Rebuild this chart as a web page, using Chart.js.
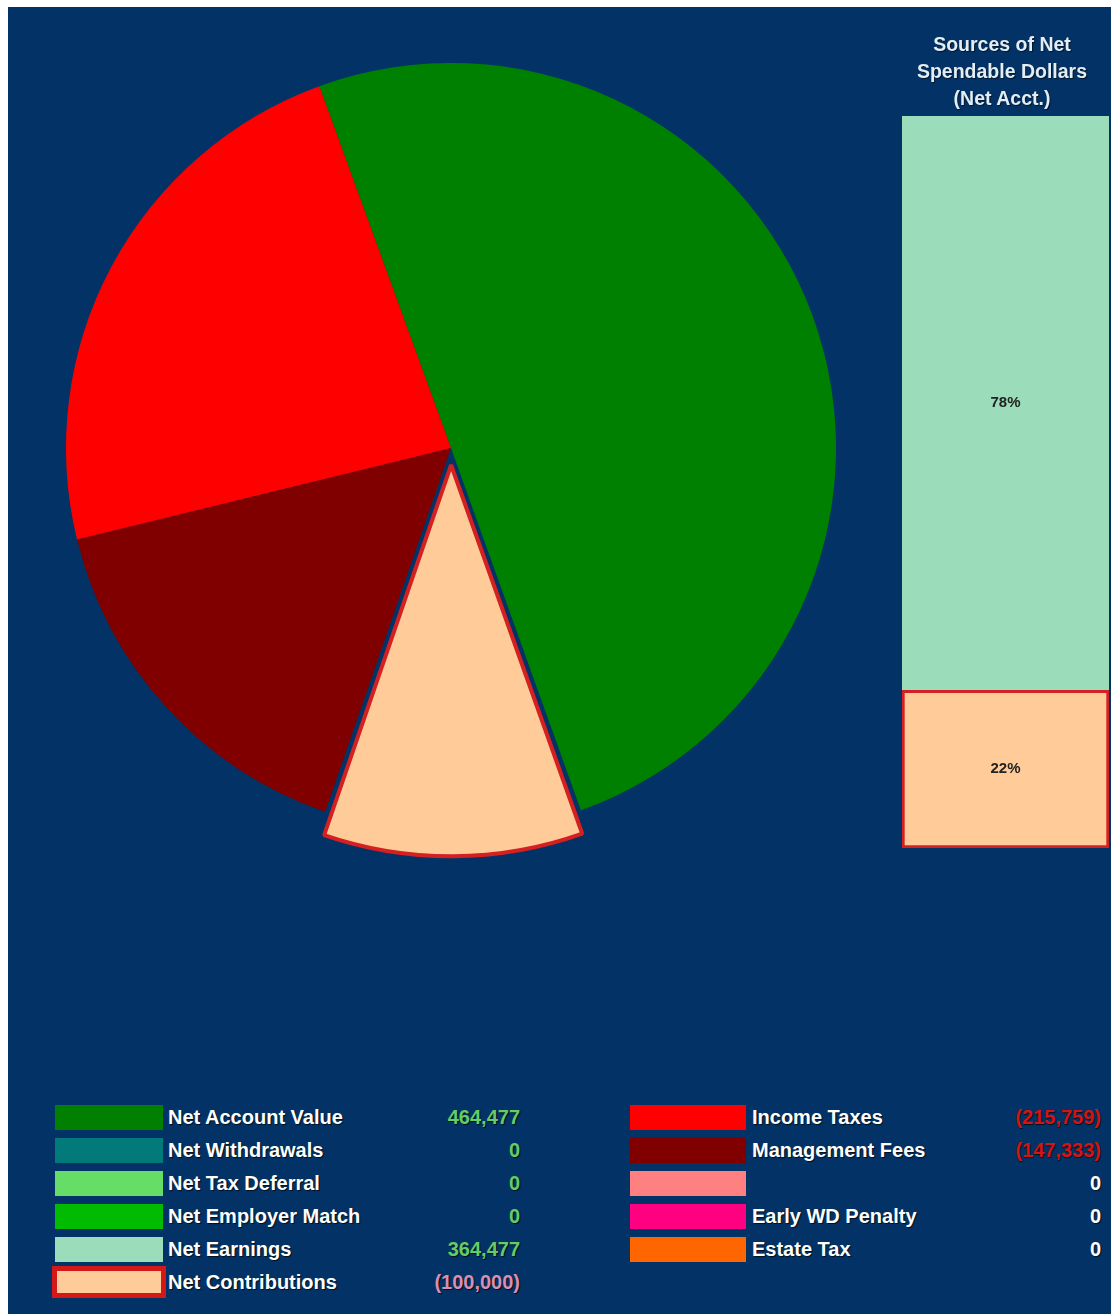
<!DOCTYPE html>
<html>
<head>
<meta charset="utf-8">
<script src="https://cdn.jsdelivr.net/npm/chart.js@4/dist/chart.umd.min.js"></script>
<style>
  html, body { margin:0; padding:0; background:#ffffff; }
  body { width:1111px; height:1314px; position:relative; overflow:hidden; font-family:"Liberation Sans", Arial, sans-serif; }
  #bg { position:absolute; left:8px; top:7px; width:1103px; height:1307px; background:#033366; }
  #pieWrap { position:absolute; left:6px; top:3px; width:890px; height:890px; }
  #barWrap { position:absolute; left:902px; top:116px; width:207px; height:732px; }
  #barTitle { position:absolute; left:892px; top:31px; width:220px; text-align:center; color:#e3edf5; font-weight:bold; font-size:19.5px; line-height:27px; text-shadow:1px 1px 1px rgba(0,0,0,0.6); }
  .lg { position:absolute; font-weight:bold; font-size:20px; line-height:24px; color:#ffffff; text-shadow:1px 1px 1px rgba(0,0,0,0.7); white-space:nowrap; }
  .sw { position:absolute; box-sizing:border-box; }
</style>
</head>
<body>
<div id="bg"></div>
<div id="pieWrap"><canvas id="pie" width="890" height="890"></canvas></div>
<div id="barTitle"></div>
<div id="barWrap"><canvas id="bar" width="207" height="732"></canvas></div>
<div id="legend"></div>
<script>
// ---- Data ----
const pieLabels = ["Net Account Value", "Net Contributions", "Management Fees", "Income Taxes"];
const pieValues = [464477, 100000, 147333, 215759];
const pieColors = ["#008000", "#ffcc99", "#800000", "#ff0000"];

const barTitleLines = ["Sources of Net", "Spendable Dollars", "(Net Acct.)"];
const barLabels = ["Net Contributions", "Net Earnings"];
const barValues = [100000, 364477];
const barColors = ["#ffcc99", "#9bdcbb"];

const legendLeftLabels = ["Net Account Value", "Net Withdrawals", "Net Tax Deferral", "Net Employer Match", "Net Earnings", "Net Contributions"];
const legendLeftValues = ["464,477", "0", "0", "0", "364,477", "(100,000)"];
const legendLeftColors = ["#007f00", "#037a7a", "#66dd66", "#00bb00", "#9bdcbb", "#ffcc99"];
const legendLeftValueColors = ["#66cc66", "#66cc66", "#66cc66", "#66cc66", "#66cc66", "#d98fb5"];

const legendRightLabels = ["Income Taxes", "Management Fees", "", "Early WD Penalty", "Estate Tax"];
const legendRightValues = ["(215,759)", "(147,333)", "0", "0", "0"];
const legendRightColors = ["#ff0000", "#800000", "#ff8080", "#ff0080", "#ff6600"];
const legendRightValueColors = ["#d41414", "#d41414", "#ffffff", "#ffffff", "#ffffff"];

// ---- Pie ----
new Chart(document.getElementById('pie'), {
  type: 'pie',
  data: {
    labels: pieLabels,
    datasets: [{
      data: pieValues,
      backgroundColor: pieColors,
      borderColor: ["#033366", "#d42020", "#033366", "#033366"],
      borderWidth: [0, 4, 0, 0],
      offset: [0, 68, 0, 0]
    }]
  },
  options: {
    responsive: false,
    animation: false,
    rotation: -20,
    radius: 385,
    layout: { padding: 0 },
    plugins: { legend: { display: false }, tooltip: { enabled: false } }
  }
});

// ---- Bar ----
document.getElementById('barTitle').innerHTML = barTitleLines.join('<br>');
const barTotal = barValues.reduce((a, b) => a + b, 0);
const pctPlugin = {
  id: 'pct',
  afterDatasetsDraw(chart) {
    const ctx = chart.ctx;
    ctx.save();
    ctx.font = 'bold 15px "Liberation Sans", Arial, sans-serif';
    ctx.fillStyle = '#222222';
    ctx.textAlign = 'center';
    ctx.textBaseline = 'middle';
    chart.data.datasets.forEach((ds, i) => {
      const el = chart.getDatasetMeta(i).data[0];
      const yMid = (el.y + el.base) / 2;
      ctx.fillText(Math.round(ds.data[0] / barTotal * 100) + '%', el.x, yMid);
    });
    ctx.restore();
  }
};
new Chart(document.getElementById('bar'), {
  type: 'bar',
  data: {
    labels: ["Net Acct."],
    datasets: barLabels.map((l, i) => ({
      label: l,
      data: [barValues[i]],
      backgroundColor: barColors[i],
      borderColor: i === 0 ? '#d42020' : barColors[i],
      borderWidth: i === 0 ? 3 : 0,
      borderSkipped: false,
      barPercentage: 1,
      categoryPercentage: 1
    }))
  },
  options: {
    responsive: false,
    animation: false,
    layout: { padding: 0 },
    scales: {
      x: { stacked: true, display: false },
      y: { stacked: true, display: false, min: 0, max: barTotal }
    },
    plugins: { legend: { display: false }, tooltip: { enabled: false } }
  },
  plugins: [pctPlugin]
});

// ---- Legend ----
const lg = document.getElementById('legend');
function addRow(x0, swW, labX, valRight, y, color, label, value, vColor, bordered) {
  const sw = document.createElement('div');
  sw.className = 'sw';
  if (bordered) {
    sw.style.left = (x0 - 3) + 'px'; sw.style.top = (y - 16) + 'px';
    sw.style.width = (swW + 6) + 'px'; sw.style.height = '32px';
    sw.style.border = '5px solid #d41818';
  } else {
    sw.style.left = x0 + 'px'; sw.style.top = (y - 12) + 'px';
    sw.style.width = swW + 'px'; sw.style.height = '25px';
  }
  sw.style.background = color;
  lg.appendChild(sw);
  const t = document.createElement('div');
  t.className = 'lg'; t.textContent = label;
  t.style.left = labX + 'px'; t.style.top = (y - 12) + 'px';
  lg.appendChild(t);
  const v = document.createElement('div');
  v.className = 'lg'; v.textContent = value;
  v.style.right = (1111 - valRight) + 'px'; v.style.top = (y - 12) + 'px';
  v.style.color = vColor;
  lg.appendChild(v);
}
const rowY = [1117, 1150, 1183, 1216, 1249, 1282];
legendLeftLabels.forEach((l, i) => addRow(55, 108, 168, 520, rowY[i], legendLeftColors[i], l, legendLeftValues[i], legendLeftValueColors[i], i === 5));
legendRightLabels.forEach((l, i) => addRow(630, 116, 752, 1101, rowY[i], legendRightColors[i], l, legendRightValues[i], legendRightValueColors[i], false));
</script>
</body>
</html>
